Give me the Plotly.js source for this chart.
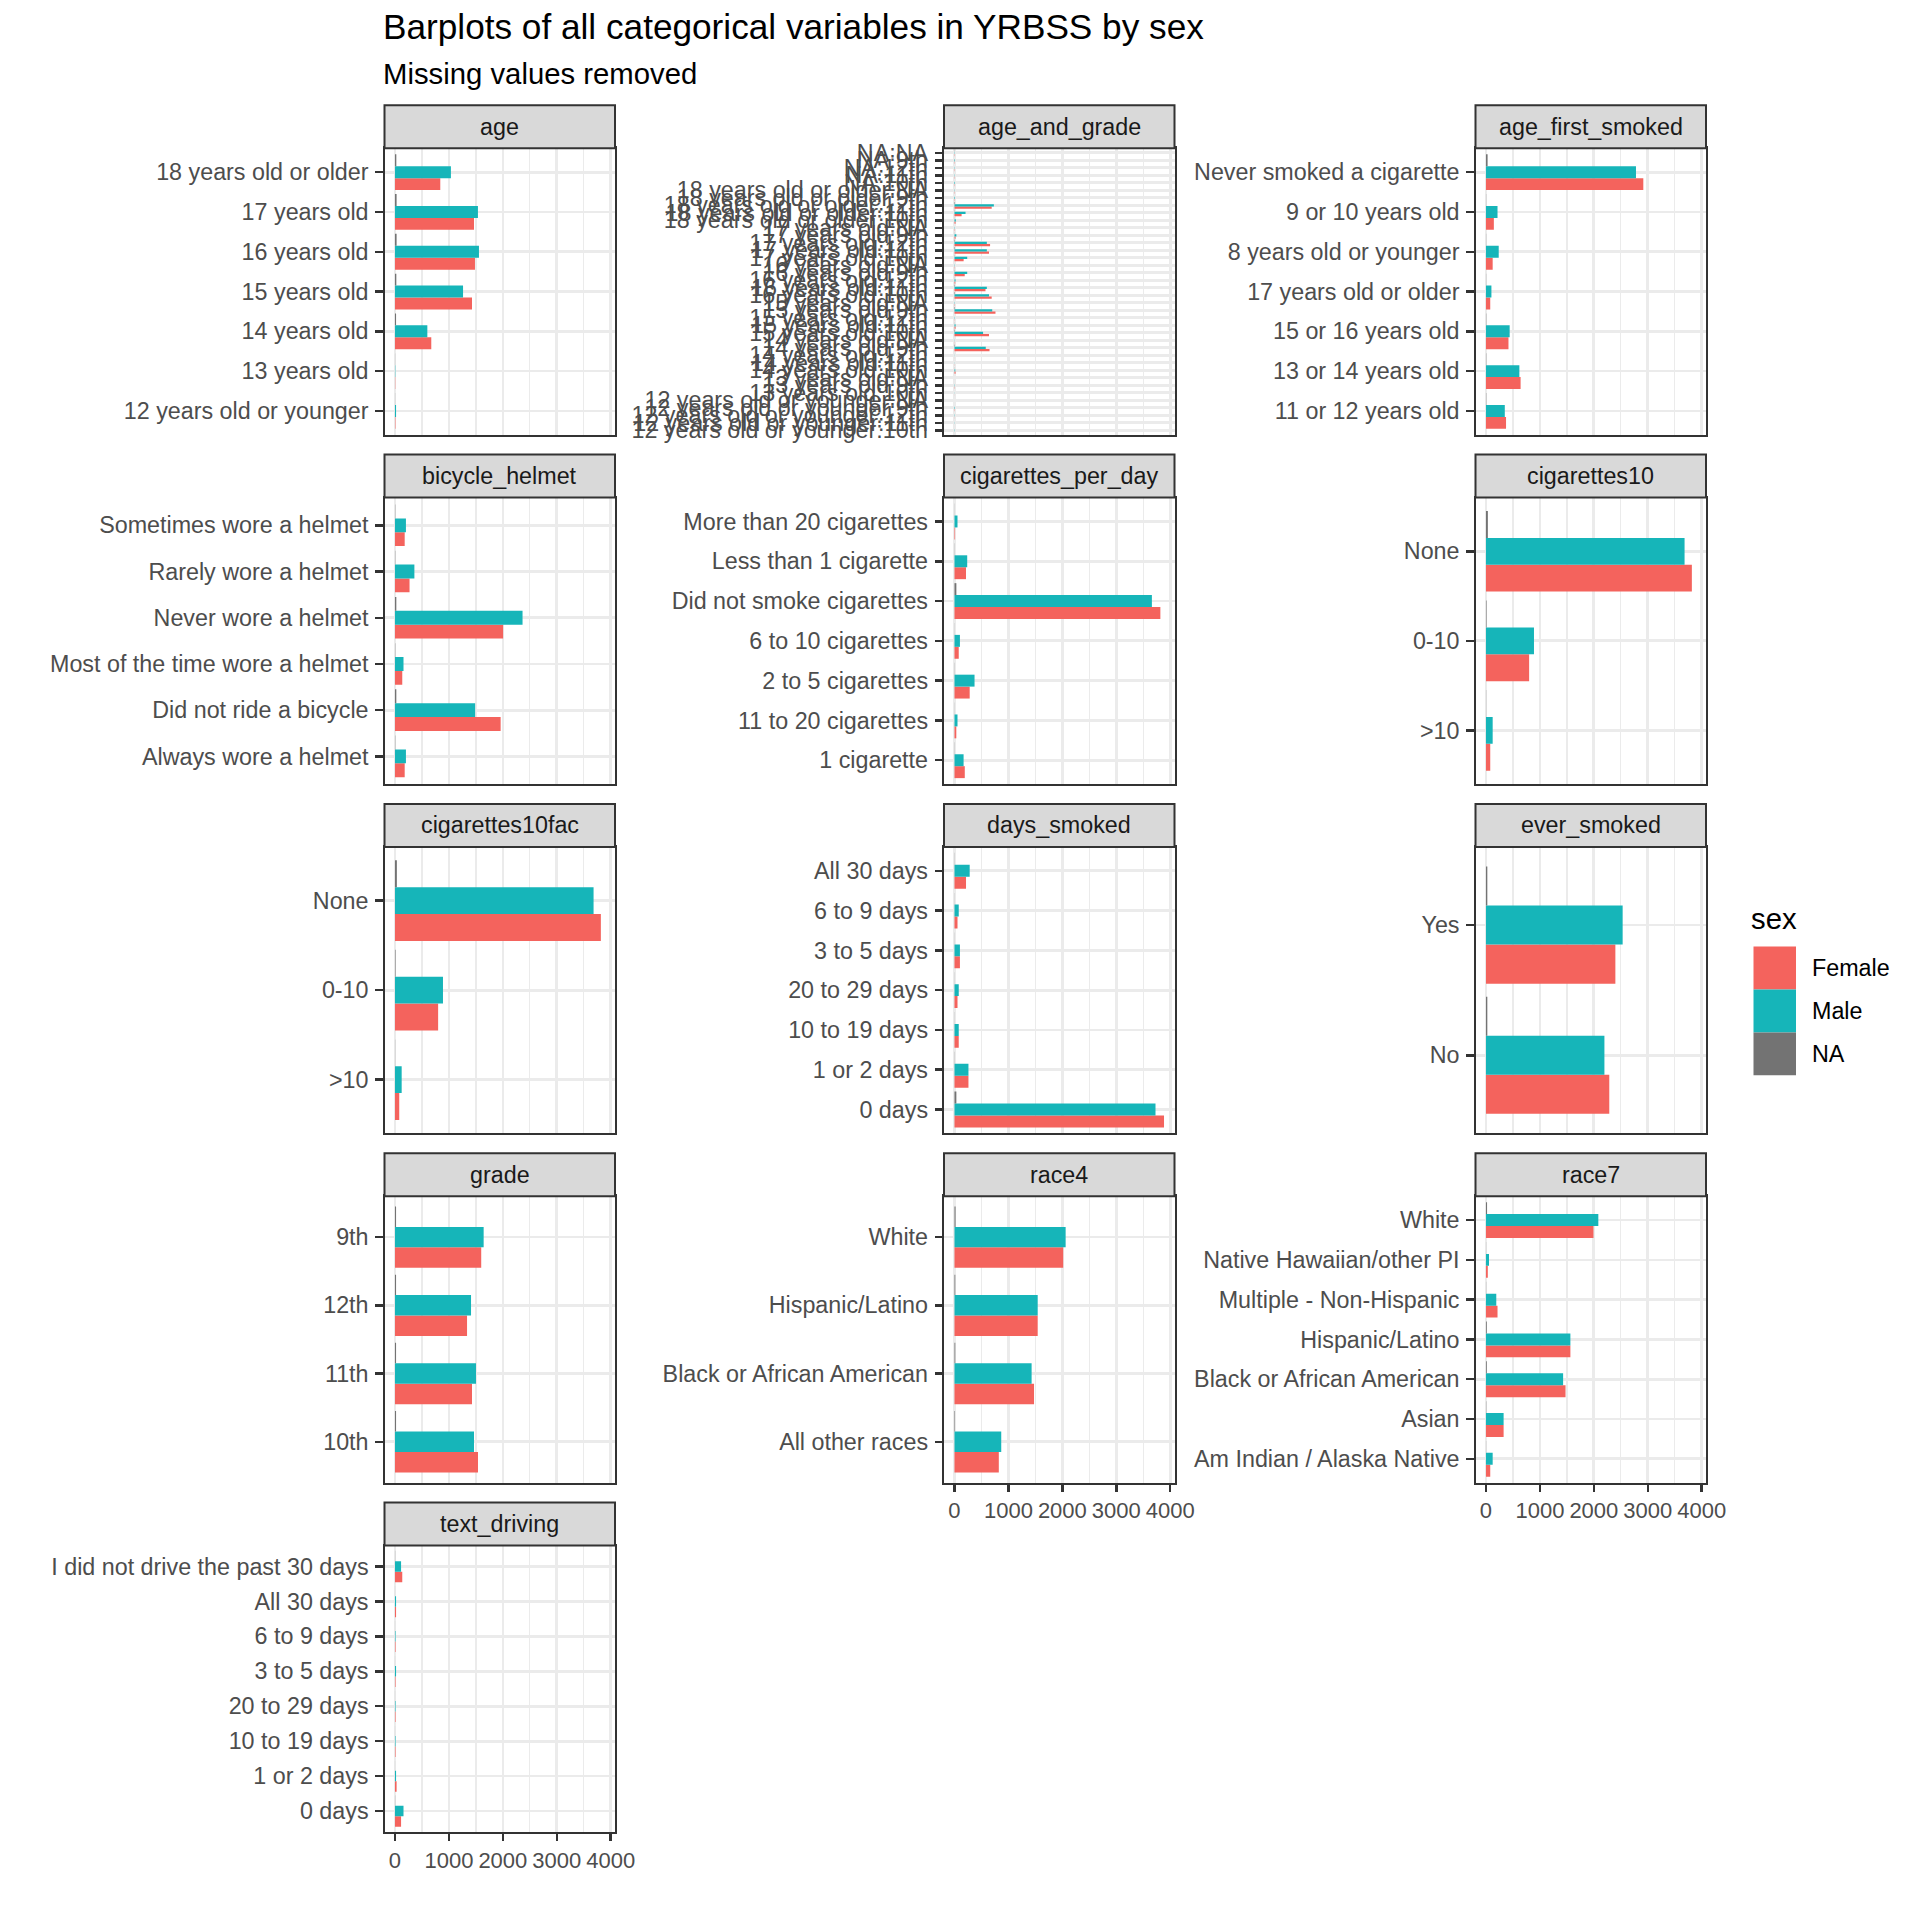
<!DOCTYPE html>
<html><head><meta charset="utf-8">
<script src="https://cdn.plot.ly/plotly-3.0.1.min.js"></script>
<style>body{margin:0;background:#fff}</style>
</head><body><div id="chart" style="width:1920px;height:1920px"></div>
<script>
// ---------- DATA (categories listed bottom -> top) ----------
const ageCats = ["12 years old or younger","13 years old","14 years old","15 years old","16 years old","17 years old","18 years old or older"];
const ageFemale = [8, 5, 673, 1428, 1483, 1465, 840];
const ageMale   = [20, 6, 600, 1262, 1557, 1538, 1037];
const ageNA     = [2, 2, 20, 25, 30, 30, 25];

const agGrCats = [
 "12 years old or younger:10th","12 years old or younger:11th","12 years old or younger:12th","12 years old or younger:9th","12 years old or younger:NA",
 "13 years old:10th","13 years old:9th","13 years old:NA",
 "14 years old:10th","14 years old:11th","14 years old:12th","14 years old:9th","14 years old:NA",
 "15 years old:10th","15 years old:11th","15 years old:12th","15 years old:9th","15 years old:NA",
 "16 years old:10th","16 years old:11th","16 years old:12th","16 years old:9th","16 years old:NA",
 "17 years old:10th","17 years old:11th","17 years old:12th","17 years old:9th","17 years old:NA",
 "18 years old or older:10th","18 years old or older:11th","18 years old or older:12th","18 years old or older:9th","18 years old or older:NA",
 "NA:10th","NA:11th","NA:12th","NA:9th","NA:NA"];
const agGrFemale = [0,0,2,5,0, 1,5,0, 20,2,1,650,3, 640,20,3,760,5, 690,575,15,190,5, 170,640,660,20,5, 20,132,690,5,5, 5,5,5,5,5];
const agGrMale   = [5,3,5,8,0, 2,5,0, 15,2,2,580,3, 530,20,5,700,5, 640,600,20,236,5, 236,600,600,35,5, 25,205,730,10,5, 10,5,5,10,5];
const agGrNA     = [0,0,0,0,0, 0,0,0, 2,0,0,8,0, 8,2,0,8,0, 8,8,2,4,0, 4,8,8,2,0, 2,4,8,0,0, 0,0,0,0,3];

const afsCats = ["11 or 12 years old","13 or 14 years old","15 or 16 years old","17 years old or older","8 years old or younger","9 or 10 years old","Never smoked a cigarette"];
const afsFemale = [372, 642, 417, 79, 124, 146, 2917];
const afsMale   = [349, 619, 439, 101, 236, 214, 2781];
const afsNA     = [5, 5, 5, 3, 3, 3, 30];

const bikeCats = ["Always wore a helmet","Did not ride a bicycle","Most of the time wore a helmet","Never wore a helmet","Rarely wore a helmet","Sometimes wore a helmet"];
const bikeFemale = [180, 1959, 135, 2005, 270, 180];
const bikeMale   = [203, 1486, 158, 2365, 360, 203];
const bikeNA     = [5, 25, 5, 25, 5, 5];

const cpdCats = ["1 cigarette","11 to 20 cigarettes","2 to 5 cigarettes","6 to 10 cigarettes","Did not smoke cigarettes","Less than 1 cigarette","More than 20 cigarettes"];
const cpdFemale = [191, 34, 282, 79, 3817, 214, 11];
const cpdMale   = [169, 56, 372, 101, 3660, 236, 56];
const cpdNA     = [3, 2, 3, 2, 35, 3, 2];

const cig10Cats = [">10", "0-10", "None"];
const cig10Female = [79, 800, 3817];
const cig10Male   = [124, 890, 3682];
const cig10NA     = [3, 10, 35];

const cig10fCats = [">10", "0-10", "None"];
const cig10fFemale = [79, 800, 3817];
const cig10fMale   = [124, 890, 3682];
const cig10fNA     = [3, 10, 35];

const daysCats = ["0 days","1 or 2 days","10 to 19 days","20 to 29 days","3 to 5 days","6 to 9 days","All 30 days"];
const daysFemale = [3885, 259, 79, 56, 101, 56, 214];
const daysMale   = [3727, 259, 79, 79, 101, 79, 282];
const daysNA     = [35, 3, 2, 2, 2, 2, 3];

const everCats = ["No", "Yes"];
const everFemale = [2286, 2399];
const everMale   = [2196, 2534];
const everNA     = [25, 25];

const gradeCats = ["10th","11th","12th","9th"];
const gradeFemale = [1539, 1428, 1336, 1599];
const gradeMale   = [1465, 1502, 1410, 1644];
const gradeNA     = [20, 20, 20, 20];

const race4Cats = ["All other races","Black or African American","Hispanic/Latino","White"];
const race4Female = [822, 1475, 1543, 2016];
const race4Male   = [867, 1430, 1543, 2061];
const race4NA     = [10, 15, 15, 20];

const race7Cats = ["Am Indian / Alaska Native","Asian","Black or African American","Hispanic/Latino","Multiple - Non-Hispanic","Native Hawaiian/other PI","White"];
const race7Female = [79, 327, 1475, 1565, 214, 34, 1993];
const race7Male   = [124, 327, 1430, 1565, 191, 56, 2083];
const race7NA     = [2, 5, 15, 15, 3, 2, 20];

const textCats = ["0 days","1 or 2 days","10 to 19 days","20 to 29 days","3 to 5 days","6 to 9 days","All 30 days","I did not drive the past 30 days"];
const textFemale = [113, 30, 10, 10, 10, 10, 20, 135];
const textMale   = [158, 20, 10, 10, 20, 10, 20, 113];
const textNA     = [3, 1, 1, 1, 1, 1, 1, 3];

const xTickVals = [0, 1000, 2000, 3000, 4000];
const xMinorVals = [500, 1500, 2500, 3500];
const sexLevels = ["Female", "Male", "NA"];
const sexColors = ["#F4635D", "#16B5B9", "#737373"];

// ---------- FACETS ----------
const facets = [
 {name:"age", cats:ageCats, f:ageFemale, m:ageMale, n:ageNA},
 {name:"age_and_grade", cats:agGrCats, f:agGrFemale, m:agGrMale, n:agGrNA},
 {name:"age_first_smoked", cats:afsCats, f:afsFemale, m:afsMale, n:afsNA},
 {name:"bicycle_helmet", cats:bikeCats, f:bikeFemale, m:bikeMale, n:bikeNA},
 {name:"cigarettes_per_day", cats:cpdCats, f:cpdFemale, m:cpdMale, n:cpdNA},
 {name:"cigarettes10", cats:cig10Cats, f:cig10Female, m:cig10Male, n:cig10NA},
 {name:"cigarettes10fac", cats:cig10fCats, f:cig10fFemale, m:cig10fMale, n:cig10fNA},
 {name:"days_smoked", cats:daysCats, f:daysFemale, m:daysMale, n:daysNA},
 {name:"ever_smoked", cats:everCats, f:everFemale, m:everMale, n:everNA},
 {name:"grade", cats:gradeCats, f:gradeFemale, m:gradeMale, n:gradeNA},
 {name:"race4", cats:race4Cats, f:race4Female, m:race4Male, n:race4NA},
 {name:"race7", cats:race7Cats, f:race7Female, m:race7Male, n:race7NA},
 {name:"text_driving", cats:textCats, f:textFemale, m:textMale, n:textNA}
];

// ---------- LAYOUT GEOMETRY (pixels) ----------
const W = 1920, H = 1920;
const colX = [[384.5, 615], [944, 1174.5], [1475.5, 1706]];
const stripTop0 = 105.3, rowPitch = 349.3, stripH = 43, panelH = 286.5;
const nCols = 3;
const FONT = "Liberation Sans, Arial, Helvetica, sans-serif";

let allVals = [];
facets.forEach(fc => { allVals = allVals.concat(fc.f, fc.m, fc.n); });
const maxV = Math.max(...allVals);
const xRange = [-0.05 * maxV, 1.05 * maxV];

const traces = [];
const layout = {
  width: W, height: H,
  margin: {l:0, r:0, t:0, b:0},
  paper_bgcolor: "#ffffff", plot_bgcolor: "#ffffff",
  barmode: "group", bargap: 0.1, bargroupgap: 0,
  showlegend: false,
  font: {family: FONT, color: "#4D4D4D"},
  shapes: [], annotations: []
};

const py = v => 1 - v / H;
const px = v => v / W;

facets.forEach((fc, i) => {
  const k = i + 1;
  const row = Math.floor(i / nCols), col = i % nCols;
  const sTop = stripTop0 + row * rowPitch;
  const pTop = sTop + stripH, pBot = pTop + panelH;
  const isBottom = (i + nCols >= facets.length);
  const xa = "x" + k, ya = "y" + k;
  const vals = [fc.f, fc.m, fc.n];
  vals.forEach((v, s) => {
    traces.push({
      type: "bar", orientation: "h",
      x: v, y: fc.cats, name: sexLevels[s],
      xaxis: xa, yaxis: ya,
      marker: {color: sexColors[s], line: {width: 0}},
      hoverinfo: "skip"
    });
  });
  layout["xaxis" + (k === 1 ? "" : k)] = {
    domain: [px(colX[col][0]), px(colX[col][1])],
    anchor: ya, range: xRange, fixedrange: true,
    tickmode: "array", tickvals: xTickVals, tickangle: 0,
    showticklabels: isBottom, ticks: isBottom ? "outside" : "",
    ticklen: 7.3, tickwidth: 2.5, tickcolor: "#333333",
    tickfont: {size: 22, color: "#4D4D4D", family: FONT},
    ticklabelstandoff: 0,
    showline: true, mirror: true, linecolor: "#333333", linewidth: 2,
    showgrid: true, gridcolor: "#EBEBEB", gridwidth: 2.7, zeroline: false,
    minor: {tickmode: "array", tickvals: xMinorVals, showgrid: true, gridcolor: "#EBEBEB", gridwidth: 1.3, ticks: ""}
  };
  const n = fc.cats.length;
  layout["yaxis" + (k === 1 ? "" : k)] = {
    domain: [py(pBot), py(pTop)],
    anchor: xa, type: "category",
    categoryorder: "array", categoryarray: fc.cats,
    range: [-0.6, n - 1 + 0.6], fixedrange: true,
    tickmode: "array", tickvals: fc.cats, ticktext: fc.cats,
    ticks: "outside", ticklen: 7.3, tickwidth: 2.5, tickcolor: "#333333",
    tickfont: {size: 23.3, color: "#4D4D4D", family: FONT},
    ticklabelstandoff: 2,
    showline: true, mirror: true, linecolor: "#333333", linewidth: 2,
    showgrid: true, gridcolor: "#EBEBEB", gridwidth: 2.7, zeroline: false
  };
  layout.shapes.push({
    type: "rect", xref: "paper", yref: "paper",
    x0: px(colX[col][0]), x1: px(colX[col][1]),
    y0: py(pTop), y1: py(sTop),
    fillcolor: "#D9D9D9", line: {color: "#333333", width: 2}
  });
  layout.annotations.push({
    xref: "paper", yref: "paper",
    x: px((colX[col][0] + colX[col][1]) / 2), y: py(sTop + stripH / 2),
    text: fc.name, showarrow: false, xanchor: "center", yanchor: "middle",
    font: {size: 23.3, color: "#1A1A1A", family: FONT}
  });
});

layout.annotations.push({
  xref: "paper", yref: "paper", x: px(380.5), y: py(27),
  text: "Barplots of all categorical variables in YRBSS by sex",
  showarrow: false, xanchor: "left", yanchor: "middle",
  font: {size: 35.2, color: "#000000", family: FONT}
});
layout.annotations.push({
  xref: "paper", yref: "paper", x: px(380.5), y: py(73.5),
  text: "Missing values removed",
  showarrow: false, xanchor: "left", yanchor: "middle",
  font: {size: 29.3, color: "#000000", family: FONT}
});

layout.annotations.push({
  xref: "paper", yref: "paper", x: px(1749), y: py(918),
  text: "sex", showarrow: false, xanchor: "left", yanchor: "middle",
  font: {size: 29.3, color: "#000000", family: FONT}
});
const keyTop = 946.6, keyH = 42.9, keyX0 = 1753.5, keyX1 = 1796;
sexLevels.forEach((lab, s) => {
  const t = keyTop + s * keyH;
  layout.shapes.push({
    type: "rect", xref: "paper", yref: "paper",
    x0: px(keyX0), x1: px(keyX1), y0: py(t + keyH), y1: py(t),
    fillcolor: sexColors[s], line: {width: 0}
  });
  layout.annotations.push({
    xref: "paper", yref: "paper", x: px(1810), y: py(t + keyH / 2),
    text: lab, showarrow: false, xanchor: "left", yanchor: "middle",
    font: {size: 23.3, color: "#000000", family: FONT}
  });
});

Plotly.newPlot("chart", traces, layout, {staticPlot: true, displayModeBar: false});
</script>
</body></html>
